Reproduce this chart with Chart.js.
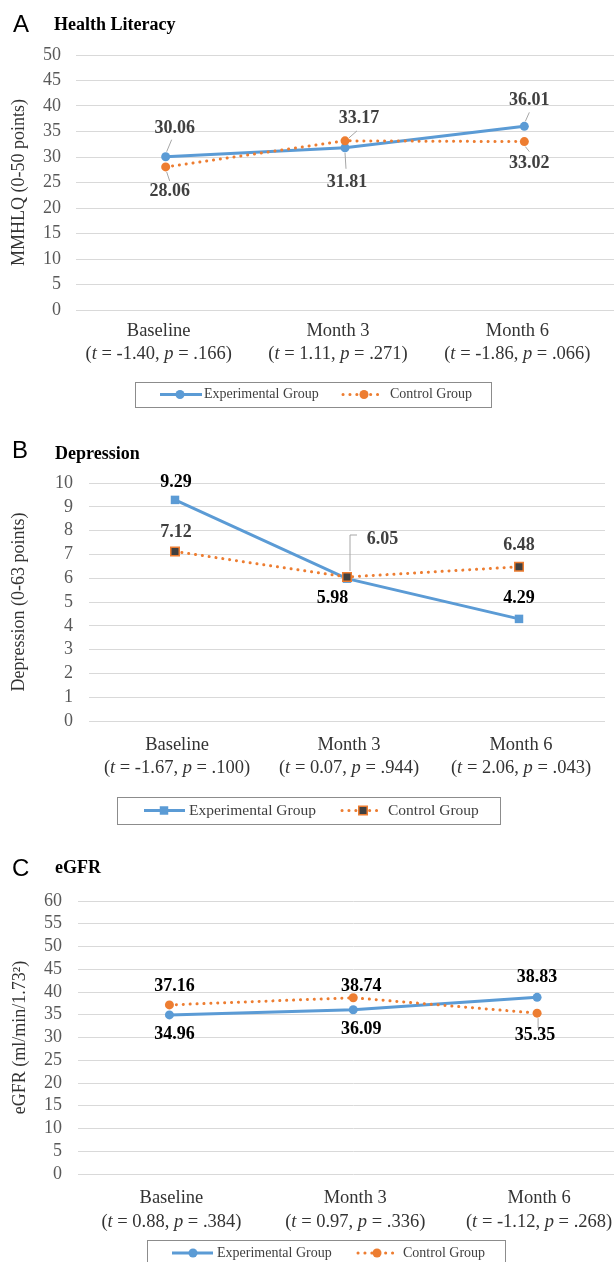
<!DOCTYPE html>
<html>
<head>
<meta charset="utf-8">
<script src="https://cdn.jsdelivr.net/npm/chart.js@4.4.1/dist/chart.umd.min.js"></script>
<style>
  html, body { margin: 0; padding: 0; background: #fff; }
  body { width: 614px; height: 1262px; overflow: hidden; position: relative; }
  canvas { position: absolute; left: 0; }
</style>
</head>
<body>
<canvas id="cA" width="660" height="420" style="top:0px"></canvas>
<canvas id="cB" width="660" height="420" style="top:420px"></canvas>
<canvas id="cC" width="660" height="422" style="top:840px"></canvas>
<script>
// ---------------- DATA ----------------
const categories = ['Baseline', 'Month 3', 'Month 6'];
const seriesNames = ['Experimental Group', 'Control Group'];

// A: Health Literacy (MMHLQ)
const hlExperimental = [30.06, 31.81, 36.01];
const hlControl      = [28.06, 33.17, 33.02];
const hlT = ['-1.40', '1.11', '-1.86'];
const hlP = ['.166', '.271', '.066'];
const hlAxis = [0, 50, 5];   // min, max, step

// B: Depression
const depExperimental = [9.29, 5.98, 4.29];
const depControl      = [7.12, 6.05, 6.48];
const depT = ['-1.67', '0.07', '2.06'];
const depP = ['.100', '.944', '.043'];
const depAxis = [0, 10, 1];

// C: eGFR
const egfrExperimental = [34.96, 36.09, 38.83];
const egfrControl      = [37.16, 38.74, 35.35];
const egfrT = ['0.88', '0.97', '-1.12'];
const egfrP = ['.384', '.336', '.268'];
const egfrAxis = [0, 60, 5];

// ---------------- STYLE / LAYOUT ----------------
const BLUE = '#5B9BD5', ORANGE = '#ED7D31';
const SERIF = '"Liberation Serif", "Times New Roman", serif';
const SANS = '"Liberation Sans", Arial, sans-serif';
const CW = 660;
const XFONT = 18.5;

const panels = [
  {
    id: 'cA', h: 420, letter: 'A', title: 'Health Literacy', yTitle: 'MMHLQ (0-50 points)',
    exp: hlExperimental, ctrl: hlControl, t: hlT, p: hlP, axis: hlAxis,
    area: { left: 76, right: 614, top: 55, bottom: 310 },
    yTickPad: 15, yTitlePad: 8, xLabelDy: [21, 44], xLabelDx: -7,
    letterPos: [13, 32], titlePos: [54, 30],
    marker: 'circle', radius: 4.5, ctrlFill: ORANGE, ctrlBorderW: 0,
    labels: [
      { color: '#404040', off: [[9, -28, [[1, -5], [6, -17]]], [2, 35, [[0, 5], [1, 21]]], [5, -26, [[1, -5], [5, -14]]]] },
      { color: '#404040', off: [[4, 24, [[1, 5], [4, 14]]], [14, -22, [[4, -3], [12, -10]]], [5, 22, [[1, 5], [5, 10]]]] }
    ],
    legend: { x: 135, y: 382, w: 356, h: 25, cy: 394.5, font: 14,
      items: [{ l1: 160, l2: 202, m: 180, tx: 204 }, { l1: 343, l2: 383, m: 364, tx: 390 }] }
  },
  {
    id: 'cB', h: 420, letter: 'B', title: 'Depression', yTitle: 'Depression (0-63 points)',
    exp: depExperimental, ctrl: depControl, t: depT, p: depP, axis: depAxis,
    area: { left: 89, right: 605, top: 63, bottom: 301 },
    yTickPad: 16, yTitlePad: 8, xLabelDy: [24, 47], xLabelDx: 2,
    letterPos: [12, 38], titlePos: [55, 39],
    marker: 'rect', radius: 6, ctrlFill: '#404040', ctrlBorderW: 1.5,
    labels: [
      { color: '#000000', off: [[1, -17.5, null], [-14.5, 20, null], [0, -21, null]] },
      { color: '#404040', off: [[1, -19, null], [35.5, -38, [[3, -6], [3, -42], [10, -42]]], [0, -21, null]] }
    ],
    legend: { x: 117, y: 377, w: 383, h: 27, cy: 390.5, font: 15.5,
      items: [{ l1: 144, l2: 185, m: 164, tx: 189 }, { l1: 342, l2: 381, m: 363, tx: 388 }] }
  },
  {
    id: 'cC', h: 422, letter: 'C', title: 'eGFR', yTitle: 'eGFR (ml/min/1.73\u00B2)',
    exp: egfrExperimental, ctrl: egfrControl, t: egfrT, p: egfrP, axis: egfrAxis,
    area: { left: 77.5, right: 629, top: 61, bottom: 334 },
    yTickPad: 15.5, yTitlePad: 9, xLabelDy: [24, 48], xLabelDx: 2,
    letterPos: [12, 36], titlePos: [55, 33],
    marker: 'circle', radius: 4.5, ctrlFill: ORANGE, ctrlBorderW: 0,
    labels: [
      { color: '#000000', off: [[5, 19, null], [8, 20, null], [0, -20, null]] },
      { color: '#000000', off: [[5, -19, null], [8, -11.5, null], [-2, 22, [[1, 5], [1, 15]]]] }
    ],
    legend: { x: 147, y: 400, w: 358, h: 30, cy: 413, font: 14,
      items: [{ l1: 172, l2: 213, m: 193, tx: 217 }, { l1: 358, l2: 395, m: 377, tx: 403 }] }
  }
];

function richLine(ctx, segs, cx, y, size, color) {
  const widths = segs.map(s => {
    ctx.font = (s[1] ? 'italic ' : '') + size + 'px ' + SERIF;
    return ctx.measureText(s[0]).width;
  });
  let x = cx - widths.reduce((a, b) => a + b, 0) / 2;
  ctx.fillStyle = color;
  ctx.textAlign = 'left';
  ctx.textBaseline = 'middle';
  segs.forEach((s, k) => {
    ctx.font = (s[1] ? 'italic ' : '') + size + 'px ' + SERIF;
    ctx.fillText(s[0], x, y);
    x += widths[k];
  });
}

function makePlugin(P) {
  return {
    id: 'panelDecor',
    afterDatasetsDraw(chart) {
      const ctx = chart.ctx;
      ctx.save();
      chart.data.datasets.forEach((ds, di) => {
        const meta = chart.getDatasetMeta(di);
        const cfg = P.labels[di];
        meta.data.forEach((pt, i) => {
          const [dx, dy, leader] = cfg.off[i];
          if (leader) {
            ctx.beginPath();
            ctx.strokeStyle = '#a6a6a6';
            ctx.lineWidth = 1;
            leader.forEach(([lx, ly], k) => {
              if (k === 0) ctx.moveTo(pt.x + lx, pt.y + ly);
              else ctx.lineTo(pt.x + lx, pt.y + ly);
            });
            ctx.stroke();
          }
          ctx.fillStyle = cfg.color;
          ctx.font = 'bold 18px ' + SERIF;
          ctx.textAlign = 'center';
          ctx.textBaseline = 'middle';
          ctx.fillText(ds.data[i].toFixed(2), pt.x + dx, pt.y + dy);
        });
      });
      ctx.restore();
    },
    afterDraw(chart) {
      const ctx = chart.ctx;
      ctx.save();
      // panel letter and title
      ctx.fillStyle = '#000';
      ctx.textBaseline = 'alphabetic';
      ctx.textAlign = 'left';
      ctx.font = '24px ' + SANS;
      ctx.fillText(P.letter, P.letterPos[0], P.letterPos[1]);
      ctx.font = 'bold 18px ' + SERIF;
      ctx.fillText(P.title, P.titlePos[0], P.titlePos[1]);

      // x category labels (two lines, italic t and p)
      const xs = chart.scales.x;
      const base = chart.chartArea.bottom;
      categories.forEach((c, i) => {
        const cx = xs.getPixelForTick(i) + P.xLabelDx;
        richLine(ctx, [[c, 0]], cx, base + P.xLabelDy[0], XFONT, '#333');
        richLine(ctx, [['(', 0], ['t', 1], [' = ' + P.t[i] + ', ', 0], ['p', 1], [' = ' + P.p[i] + ')', 0]],
          cx, base + P.xLabelDy[1], XFONT, '#333');
      });

      // legend
      const L = P.legend;
      ctx.strokeStyle = '#8c8c8c';
      ctx.lineWidth = 1;
      ctx.strokeRect(L.x + 0.5, L.y + 0.5, L.w, L.h);
      chart.data.datasets.forEach((ds, di) => {
        const it = L.items[di];
        ctx.save();
        ctx.beginPath();
        ctx.strokeStyle = ds.borderColor;
        ctx.lineWidth = ds.borderWidth;
        ctx.lineCap = ds.borderCapStyle || 'butt';
        ctx.setLineDash(ds.borderDash || []);
        ctx.moveTo(it.l1, L.cy);
        ctx.lineTo(it.l2, L.cy);
        ctx.stroke();
        ctx.restore();
        ctx.save();
        ctx.fillStyle = ds.pointBackgroundColor;
        ctx.strokeStyle = ds.pointBorderColor;
        ctx.lineWidth = ds.pointBorderWidth;
        Chart.helpers.drawPoint(ctx, { pointStyle: ds.pointStyle, radius: ds.pointRadius, rotation: 0, borderWidth: ds.pointBorderWidth }, it.m, L.cy);
        ctx.restore();
        ctx.fillStyle = '#404040';
        ctx.font = L.font + 'px ' + SERIF;
        ctx.textAlign = 'left';
        ctx.textBaseline = 'middle';
        ctx.fillText(ds.label, it.tx, L.cy);
      });
      ctx.restore();
    }
  };
}

panels.forEach(P => {
  const A = P.area;
  new Chart(document.getElementById(P.id), {
    type: 'line',
    data: {
      labels: categories,
      datasets: [
        {
          label: seriesNames[0], data: P.exp, order: 2,
          borderColor: BLUE, borderWidth: 3, tension: 0,
          pointStyle: P.marker, pointRadius: P.radius,
          pointBackgroundColor: BLUE, pointBorderColor: BLUE, pointBorderWidth: 0,
          clip: false
        },
        {
          label: seriesNames[1], data: P.ctrl, order: 1,
          borderColor: ORANGE, borderWidth: 3, tension: 0,
          borderDash: [0.1, 6.8], borderCapStyle: 'round',
          pointStyle: P.marker, pointRadius: P.radius,
          pointBackgroundColor: P.ctrlFill, pointBorderColor: ORANGE, pointBorderWidth: P.ctrlBorderW,
          clip: false
        }
      ]
    },
    options: {
      responsive: false,
      animation: false,
      devicePixelRatio: 1,
      layout: { padding: { left: 0, top: A.top, right: CW - A.right, bottom: 0 } },
      plugins: { legend: { display: false }, tooltip: { enabled: false }, title: { display: false } },
      elements: { point: { hoverRadius: P.radius } },
      scales: {
        x: {
          type: 'category',
          offset: true,
          grid: { display: false, drawTicks: false },
          border: { display: false },
          ticks: { display: false },
          afterFit(scale) { scale.height = P.h - A.bottom; scale.paddingLeft = 0; scale.paddingRight = 0; }
        },
        y: {
          min: P.axis[0], max: P.axis[1],
          ticks: {
            stepSize: P.axis[2], padding: P.yTickPad, color: '#595959',
            autoSkip: false, maxTicksLimit: 100,
            font: { family: SERIF, size: 18 }
          },
          grid: { color: '#d9d9d9', lineWidth: 1, drawTicks: false },
          border: { display: false },
          title: {
            display: true, text: P.yTitle, color: '#333',
            font: { family: SERIF, size: 18 }, padding: { top: P.yTitlePad, bottom: 0 }
          },
          afterFit(scale) { scale.width = A.left; scale.paddingTop = 0; scale.paddingBottom = 0; }
        }
      }
    },
    plugins: [makePlugin(P)]
  });
});
</script>
</body>
</html>
